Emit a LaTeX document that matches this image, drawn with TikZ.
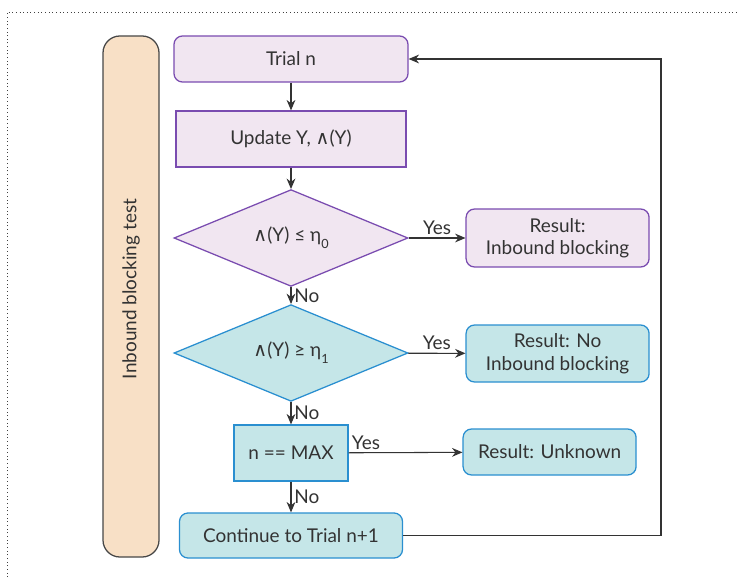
\documentclass[tikz,border=0pt]{standalone}
\usepackage{fontspec}
\setmainfont{Lato}
\newfontfamily\symfont{DejaVu Sans}
\usetikzlibrary{arrows.meta,positioning,shapes.geometric}
\definecolor{lav}{HTML}{F1E6F1}
\definecolor{lavline}{HTML}{7A4CB0}
\definecolor{teal}{HTML}{C5E6E8}
\definecolor{tealline}{HTML}{2A8FD0}
\definecolor{peach}{HTML}{F8E0C6}
\definecolor{ink}{HTML}{333333}
\newcommand{\wedgesym}{{\symfont\char"2227}}
\newcommand{\lowsub}[1]{\raisebox{-0.7ex}{\small #1}}

\begin{document}
\begin{tikzpicture}[
  every node/.style={font=\fontsize{13.5}{16}\selectfont, text=ink},
  lbox/.style={draw=lavline, line width=0.9pt, fill=lav, minimum width=#1, inner sep=2pt, align=center},
  tbox/.style={draw=tealline, line width=0.9pt, fill=teal, minimum width=#1, inner sep=2pt, align=center},
  ldec/.style={diamond, draw=lavline, line width=0.9pt, fill=lav, minimum width=5.85cm, minimum height=2.125cm, inner sep=0pt},
  tdec/.style={diamond, draw=tealline, line width=0.9pt, fill=teal, minimum width=5.85cm, minimum height=2.125cm, inner sep=0pt},
  flow/.style={draw=ink, line width=0.75pt, -{Stealth[length=2.6mm, width=2.2mm]}},
  lab/.style={font=\fontsize{13.5}{16}\selectfont, inner sep=2pt},
]
  \useasboundingbox (0,0) rectangle (18.45,14.425);
  % dotted frame
  \draw[dotted, black!75, line width=0.6pt] (0.175,0) -- (0.175,14.125) -- (18.45,14.125);

  % side bar
  \node[draw=ink!90, line width=0.9pt, fill=peach, rounded corners=12pt, minimum width=1.4cm, minimum height=13.025cm] (bar) at (3.275, 7.0125) {};
  \node[rotate=90] (bartext) at (3.275, 7.2) {Inbound blocking test};

  % main column
  \node[lbox=5.85cm, rounded corners=6pt, minimum height=1.15cm] (trial) at (7.275, 12.95) {Trial n};
  \node[lbox=5.75cm, minimum height=1.4cm] (update) at (7.275, 10.95) {Update Y, \wedgesym(Y)};
  \node[ldec] (dlow) at (7.275, 8.475) {\wedgesym(Y) ≤ η\lowsub{0}};
  \node[tdec] (dhigh) at (7.275, 5.6) {\wedgesym(Y) ≥ η\lowsub{1}};
  \node[tbox=2.85cm, minimum height=1.4cm] (max) at (7.275, 3.1) {n == MAX};
  \node[tbox=5.575cm, rounded corners=6pt, minimum height=1.125cm] (cont) at (7.275, 1.0375) {Continue to Trial n+1};

  % results
  \node[lbox=4.575cm, rounded corners=6pt, minimum height=1.45cm] (rblock) at (13.94, 8.475) {Result:\\Inbound blocking};
  \node[tbox=4.575cm, rounded corners=6pt, minimum height=1.425cm] (rnone) at (13.94, 5.5875) {Result: No\\Inbound blocking};
  \node[tbox=4.325cm, rounded corners=6pt, minimum height=1.15cm] (runk) at (13.74, 3.125) {Result: Unknown};

  \coordinate (loopb) at (16.525, 1.0375);
  \coordinate (loopt) at (16.525, 12.95);

  \draw[flow] (trial) -- (update);
  \draw[flow] (update) -- (dlow);
  \draw[flow] (dlow) -- node[lab, right] {No} (dhigh);
  \draw[flow] (dhigh) -- node[lab, right] {No} (max);
  \draw[flow] (max) -- node[lab, right] {No} (cont);
  \draw[flow] (dlow) -- node[lab, above] {Yes} (rblock);
  \draw[flow] (dhigh) -- node[lab, above] {Yes} (rnone);
  \draw[flow] (max) -- node[lab, above right, pos=0] {Yes} (runk);
  \draw[flow] (cont) -- (loopb) -- (loopt) -- (trial);
\end{tikzpicture}
\end{document}
